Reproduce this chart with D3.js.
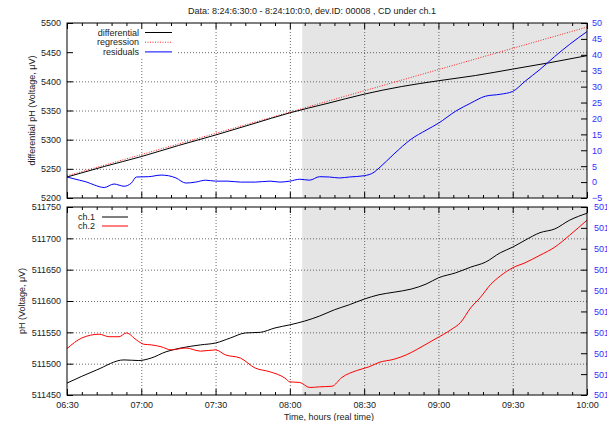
<!DOCTYPE html>
<html>
<head>
<meta charset="utf-8">
<script src="https://cdn.jsdelivr.net/npm/d3@7/dist/d3.min.js"></script>
<style>
  html, body { margin: 0; padding: 0; background: #fff; }
  svg { display: block; font-family: "Liberation Sans", Arial, Helvetica, sans-serif; }
  .tick text { font-size: 9px; fill: #222; }
  .grid line { stroke: #444; stroke-dasharray: 1,2; stroke-width: 0.8; }
  .grid path { display: none; }
  .grid text { display: none; }
</style>
</head>
<body>
<svg id="chart" width="607" height="421"></svg>
<script>
// ---- data -------------------------------------------------------------
const titleText = "Data: 8:24:6:30:0 - 8:24:10:0:0, dev.ID: 00008 , CD under ch.1";
const xTickLabels = ["06:30", "07:00", "07:30", "08:00", "08:30", "09:00", "09:30", "10:00"];
const shadeRange = ["08:05", "10:00"];

// upper panel: differential signal, fitted regression, residuals (right axis)
const diffTimes  = ["06:30","06:45","07:00","07:15","07:30","07:45","08:00","08:15","08:30","08:45","09:00","09:15","09:30","09:45","10:00"];
const diffValues = [5236, 5254, 5271, 5290, 5308, 5327, 5346, 5362, 5378, 5391, 5401, 5410, 5421, 5432, 5444];

const regTimes  = ["06:30", "10:00"];
const regValues = [5238, 5493];

const residTimes  = ["06:30","06:35","06:38","06:41","06:45","06:49","06:53","06:56","06:58","07:03","07:08","07:11","07:14","07:18","07:22","07:26","07:30","07:35","07:40","07:46","07:52","07:56","08:00","08:04","08:08","08:12","08:16","08:20","08:24","08:30","08:34","08:36","08:42","08:49","08:55","09:00","09:07","09:13","09:19","09:25","09:30","09:35","09:41","09:47","09:53","10:00"];
const residValues = [1.6, 0.6, 0.0, -0.9, -1.7, -0.6, -1.3, -0.3, 1.6, 1.7, 2.2, 2.0, 1.3, -0.3, 0.0, 0.6, 0.3, 0.3, 0.0, 0.0, 0.3, 0.0, 0.3, 0.9, 0.6, 1.7, 1.6, 1.3, 1.6, 2.0, 3.1, 4.4, 8.8, 13.5, 16.3, 18.5, 22.3, 24.8, 27.0, 27.6, 28.5, 31.7, 35.4, 39.5, 43.3, 47.3];

// lower panel: raw channels
const ch1Times  = ["06:30","06:42","06:53","06:59","07:04","07:10","07:16","07:24","07:30","07:36","07:42","07:48","07:54","08:00","08:06","08:12","08:18","08:24","08:30","08:36","08:42","08:49","08:55","09:00","09:07","09:13","09:19","09:25","09:30","09:35","09:41","09:47","09:53","10:00"];
const ch1Values = [511469, 511490, 511506, 511505, 511509, 511519, 511525, 511530, 511533, 511541, 511549, 511550, 511557, 511562, 511568, 511576, 511586, 511594, 511603, 511610, 511614, 511619, 511627, 511637, 511645, 511654, 511662, 511677, 511686, 511697, 511709, 511715, 511729, 511740];

const ch2Times  = ["06:30","06:36","06:43","06:47","06:51","06:54","06:58","07:01","07:04","07:08","07:12","07:18","07:24","07:30","07:34","07:40","07:46","07:52","07:58","08:00","08:04","08:08","08:12","08:17","08:21","08:27","08:32","08:36","08:42","08:47","08:51","08:55","08:59","09:05","09:09","09:13","09:17","09:21","09:25","09:30","09:35","09:41","09:47","09:53","10:00"];
const ch2Values = [511524, 511541, 511547, 511543, 511543, 511549, 511538, 511531, 511530, 511527, 511522, 511525, 511520, 511522, 511514, 511509, 511493, 511487, 511477, 511471, 511470, 511462, 511463, 511464, 511478, 511489, 511495, 511502, 511507, 511514, 511522, 511531, 511540, 511554, 511566, 511589, 511606, 511626, 511640, 511653, 511661, 511673, 511686, 511705, 511729];

const topLeftTicks   = [5200, 5250, 5300, 5350, 5400, 5450, 5500];
const topRightTicks  = [-5, 0, 5, 10, 15, 20, 25, 30, 35, 40, 45, 50];
const botLeftTicks   = [511450, 511500, 511550, 511600, 511650, 511700, 511750];
const botRightTicks  = [501450, 501500, 501550, 501600, 501650, 501700, 501750, 501800, 501850, 501900];

// ---- layout -------------------------------------------------------------
const parse = d3.timeParse("%H:%M");
const svg = d3.select("#chart");
const left = 67, right = 587;
const top1 = 23, bot1 = 198;
const top2 = 207, bot2 = 395;

const x = d3.scaleTime().domain([parse("06:30"), parse("10:00")]).range([left, right]);
const yTop  = d3.scaleLinear().domain([5200, 5500]).range([bot1, top1]);
const y2Top = d3.scaleLinear().domain([-5, 50]).range([bot1, top1]);
const yBot  = d3.scaleLinear().domain([511450, 511750]).range([bot2, top2]);
const y2Bot = d3.scaleLinear().domain([501450, 501900]).range([bot2, top2]);

const majorX = xTickLabels.map(parse);
const minorX = d3.timeMinute.every(6).range(parse("06:30"), parse("10:00"))
  .filter(d => !majorX.some(m => +m === +d));

function pts(times, values) { return times.map((t, i) => ({ t: parse(t), v: values[i] })); }

function panel(y0, y1, yL, leftTicks, legendBox) {
  const g = svg.append("g");
  const h = y1 - y0;
  // shaded interval
  g.append("rect")
    .attr("x", x(parse(shadeRange[0]))).attr("y", y0)
    .attr("width", x(parse(shadeRange[1])) - x(parse(shadeRange[0])))
    .attr("height", h).attr("fill", "#e5e5e5");
  // dotted grid
  g.append("g").attr("class", "grid").attr("transform", `translate(0,${y1})`)
    .call(d3.axisBottom(x).tickValues(majorX.slice(1, -1)).tickSize(-h).tickFormat(""));
  g.append("g").attr("class", "grid").attr("transform", `translate(${left},0)`)
    .call(d3.axisLeft(yL).tickValues(leftTicks.slice(1, -1)).tickSize(-(right - left)).tickFormat(""));
  // legend area is opaque
  g.append("rect").attr("x", legendBox[0]).attr("y", legendBox[1])
    .attr("width", legendBox[2]).attr("height", legendBox[3]).attr("fill", "#fff");
  return g;
}

function frame(g, y0, y1, yL, yR, leftTicks, rightTicks, rightLabelX, showX) {
  const axes = g.append("g");
  const styleAx = sel => { sel.select(".domain").remove(); sel.selectAll("line").attr("stroke", "#000"); };
  axes.append("g").attr("transform", `translate(0,${y1})`)
    .call(d3.axisBottom(x).tickValues(majorX).tickSizeInner(-6).tickSizeOuter(0).tickPadding(7)
      .tickFormat(showX ? d3.timeFormat("%H:%M") : () => ""))
    .call(styleAx);
  axes.append("g").attr("transform", `translate(0,${y1})`)
    .call(d3.axisBottom(x).tickValues(minorX).tickSizeInner(-3).tickSizeOuter(0).tickFormat(""))
    .call(styleAx);
  axes.append("g").attr("transform", `translate(0,${y0})`)
    .call(d3.axisTop(x).tickValues(majorX).tickSizeInner(-6).tickSizeOuter(0).tickFormat(""))
    .call(styleAx);
  axes.append("g").attr("transform", `translate(0,${y0})`)
    .call(d3.axisTop(x).tickValues(minorX).tickSizeInner(-3).tickSizeOuter(0).tickFormat(""))
    .call(styleAx);
  axes.append("g").attr("transform", `translate(${left},0)`)
    .call(d3.axisLeft(yL).tickValues(leftTicks).tickSizeInner(-6).tickSizeOuter(0).tickPadding(6)
      .tickFormat(d3.format("d")))
    .call(styleAx);
  const r = axes.append("g").attr("transform", `translate(${right},0)`)
    .call(d3.axisRight(yR).tickValues(rightTicks).tickSizeInner(-6).tickSizeOuter(0).tickFormat(d3.format("d")))
    .call(styleAx);
  r.selectAll("text").attr("x", rightLabelX - right).style("fill", "#3030ff");
  g.append("rect").attr("x", left).attr("y", y0).attr("width", right - left).attr("height", y1 - y0)
    .attr("fill", "none").attr("stroke", "#000").attr("stroke-width", 1);
}

const line = (ys) => d3.line().x(d => x(d.t)).y(d => ys(d.v));

// ---- upper panel ----------------------------------------------------------
const g1 = panel(top1, bot1, yTop, topLeftTicks, [left + 0.5, top1 + 0.5, 109, 34]);
g1.append("path").datum(pts(regTimes, regValues)).attr("d", line(yTop))
  .attr("fill", "none").attr("stroke", "#ff2020").attr("stroke-width", 1).attr("stroke-dasharray", "1,1.5");
g1.append("path").datum(pts(diffTimes, diffValues)).attr("d", line(yTop).curve(d3.curveMonotoneX))
  .attr("fill", "none").attr("stroke", "#000").attr("stroke-width", 1);
g1.append("path").datum(pts(residTimes, residValues)).attr("d", line(y2Top).curve(d3.curveMonotoneX))
  .attr("fill", "none").attr("stroke", "#0000ff").attr("stroke-width", 1);
frame(g1, top1, bot1, yTop, y2Top, topLeftTicks, topRightTicks, 592, false);

const leg1 = [["differential", "#000", null], ["regression", "#ff2020", "1,1.5"], ["residuals", "#0000ff", null]];
leg1.forEach((d, i) => {
  const yy = 32.5 + i * 9.7;
  g1.append("text").attr("x", 139).attr("y", yy + 3).attr("text-anchor", "end")
    .attr("font-size", 9).attr("fill", "#222").text(d[0]);
  g1.append("line").attr("x1", 145).attr("x2", 172).attr("y1", yy).attr("y2", yy)
    .attr("stroke", d[1]).attr("stroke-width", 1).attr("stroke-dasharray", d[2]);
});

// ---- lower panel ----------------------------------------------------------
const g2 = panel(top2, bot2, yBot, botLeftTicks, [left + 0.5, top2 + 0.5, 66, 29]);
g2.append("path").datum(pts(ch1Times, ch1Values)).attr("d", line(yBot).curve(d3.curveMonotoneX))
  .attr("fill", "none").attr("stroke", "#000").attr("stroke-width", 1);
g2.append("path").datum(pts(ch2Times, ch2Values)).attr("d", line(yBot).curve(d3.curveMonotoneX))
  .attr("fill", "none").attr("stroke", "#ff0000").attr("stroke-width", 1);
frame(g2, top2, bot2, yBot, y2Bot, botLeftTicks, botRightTicks, 594, true);

const leg2 = [["ch.1", "#000"], ["ch.2", "#ff0000"]];
leg2.forEach((d, i) => {
  const yy = 217 + i * 9;
  g2.append("text").attr("x", 78).attr("y", yy + 3).attr("font-size", 9).attr("fill", "#222").text(d[0]);
  g2.append("line").attr("x1", 102).attr("x2", 128).attr("y1", yy).attr("y2", yy)
    .attr("stroke", d[1]).attr("stroke-width", 1);
});

// ---- titles --------------------------------------------------------------
svg.append("text").attr("x", 312).attr("y", 14).attr("text-anchor", "middle")
  .attr("font-size", 9).attr("fill", "#222").text(titleText);
svg.append("text").attr("transform", `translate(35,${(top1 + bot1) / 2}) rotate(-90)`)
  .attr("text-anchor", "middle").attr("font-size", 9).attr("fill", "#222")
  .text("differential pH (Voltage, μV)");
svg.append("text").attr("transform", `translate(25,${(top2 + bot2) / 2}) rotate(-90)`)
  .attr("text-anchor", "middle").attr("font-size", 9).attr("fill", "#222")
  .text("pH (Voltage, μV)");
svg.append("text").attr("x", 329).attr("y", 420).attr("text-anchor", "middle")
  .attr("font-size", 9).attr("fill", "#222").text("Time, hours (real time)");
</script>
</body>
</html>
